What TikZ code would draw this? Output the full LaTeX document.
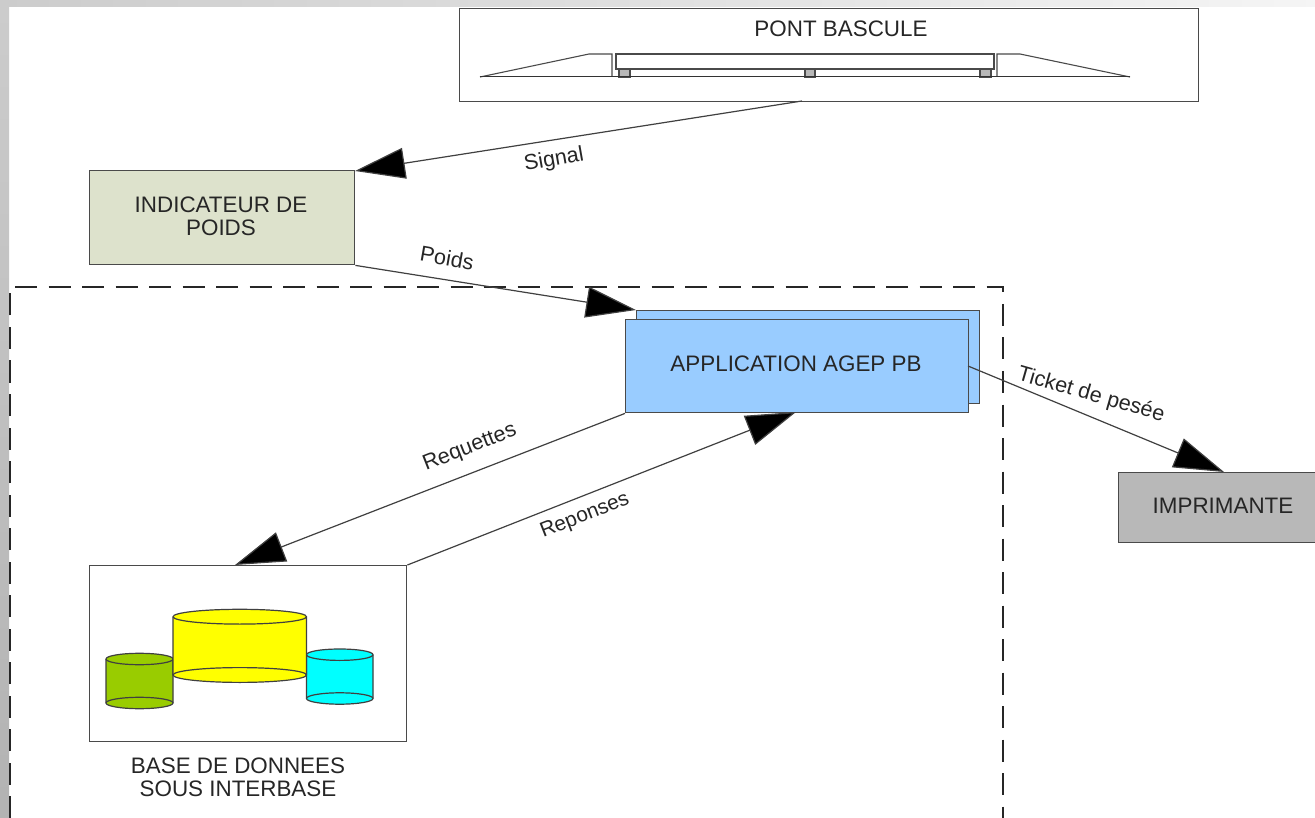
\documentclass[tikz,border=0pt]{standalone}
\usepackage{fontspec}
\setmainfont{Liberation Sans}
\usetikzlibrary{arrows.meta,shadings}
\definecolor{edgegray}{HTML}{4A4A4A}
\definecolor{txt}{HTML}{262626}
\definecolor{appblue}{HTML}{99CCFF}
\definecolor{indgreen}{HTML}{DDE2CC}
\definecolor{prgray}{HTML}{B8B8B8}
\definecolor{cylgreen}{HTML}{99CC00}
\definecolor{cylyellow}{HTML}{FFFF00}
\definecolor{cylcyan}{HTML}{00FFFF}
\definecolor{supgray}{HTML}{B8B8B8}
\tikzset{
  x=1pt,y=-1pt,
  every node/.style={font=\fontsize{22.4}{23}\selectfont,text=txt,align=center,inner sep=0pt},
  boxnode/.style={draw=edgegray,line width=1.4pt,anchor=north west,minimum width=#1},
  flow/.style={draw=black!75,line width=1.2pt,-{Triangle[length=50pt,width=31pt,fill=black]}},
  flowlabel/.style={font=\fontsize{21.6}{26}\selectfont},
  part/.style={draw=edgegray,line width=1.1pt},
  cyl/.style={draw=black!75,line width=1.2pt}
}
\newcommand{\cylinderat}[6]{% xl xr ytop ybottom ry colour
  \fill[#6] (#1,#3) -- (#1,#4) arc[start angle=180,end angle=0,x radius={(#2-#1)/2},y radius=#5] -- (#2,#3) arc[start angle=0,end angle=-180,x radius={(#2-#1)/2},y radius=#5] -- cycle;
  \draw[cyl] (#1,#3) -- (#1,#4) arc[start angle=180,end angle=0,x radius={(#2-#1)/2},y radius=#5] -- (#2,#3) arc[start angle=0,end angle=-180,x radius={(#2-#1)/2},y radius=#5];
  \draw[cyl] (#1,#3) arc[start angle=180,end angle=0,x radius={(#2-#1)/2},y radius=#5];
  \draw[cyl] (#1,#4) arc[start angle=180,end angle=360,x radius={(#2-#1)/2},y radius=#5];
}
\begin{document}
\begin{tikzpicture}
\useasboundingbox (0,0) rectangle (1315,818);
% window background
\fill[white] (0,0) rectangle (1315,818);
\shade[left color=black!20,right color=black!4] (0,0) rectangle (1315,7);
\shade[top color=black!20,bottom color=black!30] (0,7) rectangle (9,818);
% dashed frame
\coordinate (fa) at (10,818);
\coordinate (fb) at (10,287);
\coordinate (fc) at (1003,287);
\coordinate (fd) at (1003,818);
\draw[black!85,line width=1.1pt,dash pattern=on 22pt off 11.5pt] (fa) -- (fb) -- (fc) -- (fd);
% weighbridge
\node[boxnode=739pt,minimum height=93pt] (pont) at (459,8) {};
\node (pontlabel) at (841,29) {PONT BASCULE};
\foreach \xa/\xb in {619/630,805/815,980/991}
  \draw[part,fill=supgray] (\xa,69) rectangle (\xb,77);
\draw[part] (480,77) -- (589,54) -- (612,54) -- (612,77);
\draw[part] (997,77) -- (997,54) -- (1020,54) -- (1130,77);
\draw[part,fill=white] (616,54) rectangle (994,69);
\draw[part,draw=black!80,line width=1pt] (480,77) -- (1130,77);
% main boxes
\node[boxnode=265pt,minimum height=94pt,fill=indgreen] (ind) at (89,170) {};
\node (indlabel) at (221,216) {INDICATEUR DE\\POIDS};
\node[boxnode=343pt,minimum height=93pt,fill=appblue] (appback) at (636,310) {};
\node[boxnode=343pt,minimum height=93pt,fill=appblue] (app) at (625,319) {};
\node (applabel) at (796,364) {APPLICATION AGEP PB};
\node[boxnode=198pt,minimum height=70pt,fill=prgray] (imp) at (1118,472) {};
\node (implabel) at (1223,506) {IMPRIMANTE};
\node[boxnode=317pt,minimum height=176pt,fill=white] (db) at (89,565) {};
\node (dblabel) at (238,777) {BASE DE DONNEES\\SOUS INTERBASE};
% cylinders
\cylinderat{106}{173}{659}{703}{5.7}{cylgreen}
\cylinderat{306.5}{373}{654.7}{698.5}{5.7}{cylcyan}
\cylinderat{173}{306.5}{616.7}{675}{7.4}{cylyellow}
% connector ends
\coordinate (sigfrom) at (802,101);
\coordinate (sigto) at (355,171);
\coordinate (poidsto) at (636,310);
\coordinate (reqto) at (235,565);
\coordinate (repto) at (796,412);
\coordinate (ticketfrom) at (968,366);
\coordinate (ticketto) at (1224,472);
\draw[flow] (sigfrom) -- (sigto);
\draw[flow] (ind.south east) -- (poidsto);
\draw[flow] (app.south west) -- (reqto);
\draw[flow] (db.north east) -- (repto);
\draw[flow] (ticketfrom) -- (ticketto);
% connector labels
\node[flowlabel,rotate=10] (l1) at (554,160) {Signal};
\node[flowlabel,rotate=-10] (l2) at (447,258) {Poids};
\node[flowlabel,rotate=21.5] (l3) at (470,448) {Requettes};
\node[flowlabel,rotate=21.5,font=\fontsize{20.8}{25}\selectfont] (l4) at (585,516) {Reponses};
\node[flowlabel,rotate=-16] (l5) at (1091,395) {Ticket de pesée};
\end{tikzpicture}
\end{document}
